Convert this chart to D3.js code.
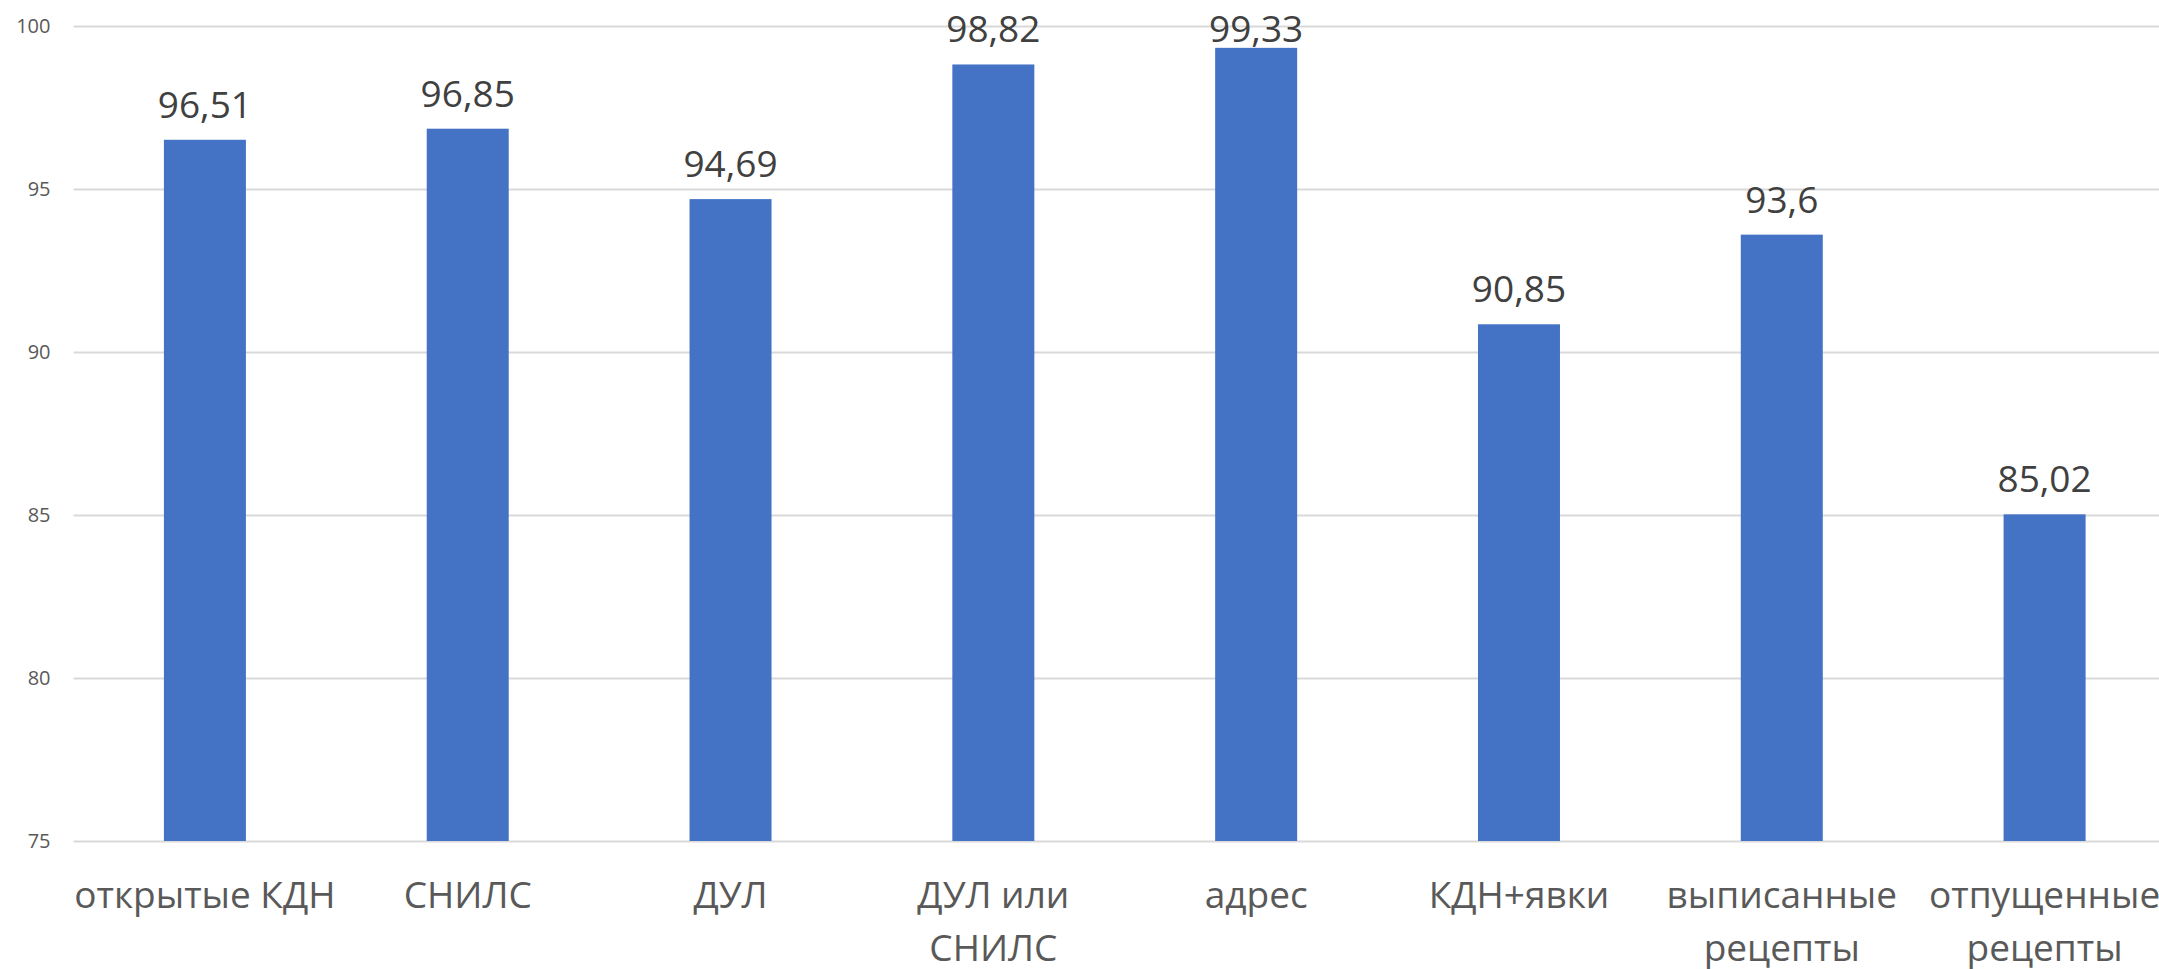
<!DOCTYPE html>
<html>
<head>
<meta charset="utf-8">
<script src="https://cdn.jsdelivr.net/npm/d3@7"></script>
<style>
  body { margin: 0; background: #fff; overflow: hidden; }
  svg { display: block; font-family: "Open Sans", "Noto Sans", sans-serif; }
</style>
</head>
<body>
<svg id="chart"></svg>
<script>
// categories (line breaks as in the picture)
var categories = [
    ["открытые КДН"],
    ["СНИЛС"],
    ["ДУЛ"],
    ["ДУЛ или", "СНИЛС"],
    ["адрес"],
    ["КДН+явки"],
    ["выписанные", "рецепты"],
    ["отпущенные", "рецепты"]
];
var values = [96.51, 96.85, 94.69, 98.82, 99.33, 90.85, 93.6, 85.02];
var labels = ["96,51", "96,85", "94,69", "98,82", "99,33", "90,85", "93,6", "85,02"];
var yTicks = [75, 80, 85, 90, 95, 100];

var width = 2159,
    height = 969;
var plotLeft = 73.5, plotRight = 2176, plotTop = 26, plotBottom = 841;

var svg = d3.select("#chart")
    .attr("width", width)
    .attr("height", height);

var x = d3.scaleBand()
    .domain(d3.range(categories.length))
    .range([plotLeft, plotRight])
    .paddingInner(0.688)
    .paddingOuter(0.344);

var y = d3.scaleLinear()
    .domain([75, 100])
    .range([plotBottom, plotTop]);

// gridlines + y tick labels
var yAxis = d3.axisLeft(y)
    .tickValues(yTicks)
    .tickSize(-(plotRight - plotLeft))
    .tickPadding(23);

var gy = svg.append("g")
    .attr("transform", "translate(" + plotLeft + ",0)")
    .call(yAxis);
gy.select(".domain").remove();
gy.selectAll(".tick line")
    .attr("stroke", "#d9d9d9")
    .attr("stroke-width", 2);
gy.selectAll(".tick text")
    .attr("fill", "#595959")
    .attr("font-size", 20)
    .attr("font-family", "Open Sans, sans-serif");

// bars
svg.append("g").selectAll("rect")
    .data(values)
    .enter().append("rect")
    .attr("x", function(d, i) { return x(i); })
    .attr("y", function(d) { return y(d); })
    .attr("width", x.bandwidth())
    .attr("height", function(d) { return y(75) - y(d); })
    .attr("fill", "#4472c4");

// value labels, kept inside the chart at the top like the original does
svg.append("g").selectAll("text")
    .data(values)
    .enter().append("text")
    .attr("x", function(d, i) { return x(i) + x.bandwidth() / 2; })
    .attr("y", function(d) { return Math.max(y(d) - 22, 42); })
    .attr("text-anchor", "middle")
    .attr("font-size", 37)
    .attr("fill", "#404040")
    .text(function(d, i) { return labels[i]; });

// category labels
var catG = svg.append("g").selectAll("text")
    .data(categories)
    .enter().append("text")
    .attr("x", function(d, i) { return x(i) + x.bandwidth() / 2; })
    .attr("y", 908)
    .attr("text-anchor", "middle")
    .attr("font-size", 37)
    .attr("fill", "#595959");

catG.selectAll("tspan")
    .data(function(d) { return d; })
    .enter().append("tspan")
    .attr("x", function() { return d3.select(this.parentNode).attr("x"); })
    .attr("dy", function(d, j) { return j === 0 ? 0 : 53; })
    .text(function(d) { return d; });
</script>
</body>
</html>
